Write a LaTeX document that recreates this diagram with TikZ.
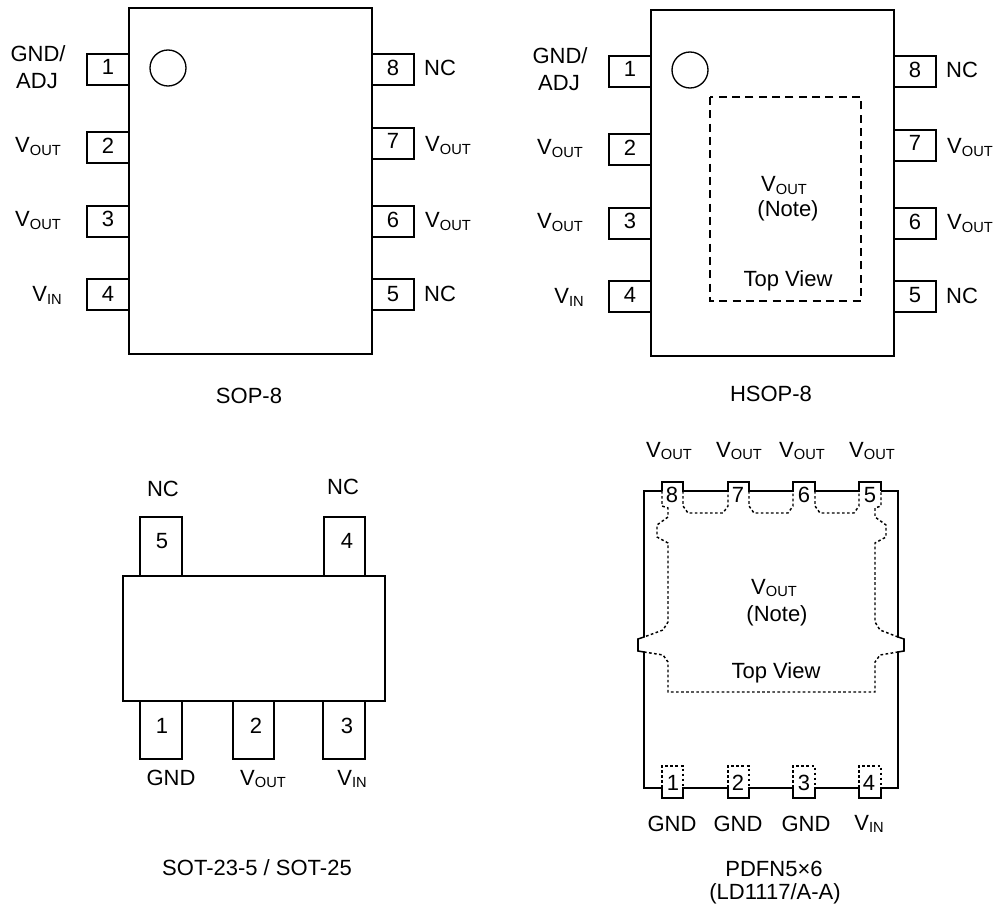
\documentclass[tikz,border=0pt]{standalone}
\usepackage{fontspec}
\setmainfont{Liberation Sans}
\newcommand{\Vs}[1]{V\raisebox{-2.1pt}{\fontsize{11}{11}\selectfont #1}}
\newcommand{\lbl}[3]{\node[txt] (n#1) at (#2) {#3};}
\tikzset{
  txt/.style={anchor=base,inner sep=0pt,outer sep=0pt,align=center,font=\fontsize{16.5}{16.5}\selectfont,text=black},
  ln/.style={draw=black,line width=1.15pt,line join=miter},
  coarse/.style={draw=black,line width=1pt,dash pattern=on 6pt off 4pt},
  fine/.style={draw=black,line width=1.1pt,dash pattern=on 2pt off 1.8pt}
}
\begin{document}
\begin{tikzpicture}[x=0.75pt,y=-0.75pt]
\useasboundingbox (0,0) rectangle (996,909);
% SOP-8 and HSOP-8
\foreach \dx/\dy/\pre in {0/0/a,522/2/b}{
  \begin{scope}[shift={(\dx,\dy)}]
    \draw[ln] (129,8) rectangle (372,354);
    \draw[ln] (129,54) -- (87,54) -- (87,85) -- (129,85);
    \draw[ln] (129,132) -- (87,132) -- (87,163) -- (129,163);
    \draw[ln] (129,206) -- (87,206) -- (87,237) -- (129,237);
    \draw[ln] (129,279) -- (87,279) -- (87,310) -- (129,310);
    \draw[ln] (372,54) -- (414,54) -- (414,85) -- (372,85);
    \draw[ln] (372,128) -- (414,128) -- (414,159) -- (372,159);
    \draw[ln] (372,206) -- (414,206) -- (414,237) -- (372,237);
    \draw[ln] (372,279) -- (414,279) -- (414,310) -- (372,310);
    \draw[ln,line width=1pt] (168,68) circle (18);
    \lbl{\pre p1}{108,75}{1}
    \lbl{\pre p2}{108,154}{2}
    \lbl{\pre p3}{108,227}{3}
    \lbl{\pre p4}{108,301}{4}
    \lbl{\pre p8}{393,76}{8}
    \lbl{\pre p7}{393,149}{7}
    \lbl{\pre p6}{393,228}{6}
    \lbl{\pre p5}{393,301}{5}
    \lbl{\pre gnd}{38,62}{GND/}
    \lbl{\pre adj}{37,89}{ADJ}
    \lbl{\pre vo2}{38,153}{\Vs{OUT}}
    \lbl{\pre vo3}{38,227}{\Vs{OUT}}
    \lbl{\pre vin}{47,302}{\Vs{IN}}
    \lbl{\pre nc8}{440,76}{NC}
    \lbl{\pre vo7}{448,152}{\Vs{OUT}}
    \lbl{\pre vo6}{448,228}{\Vs{OUT}}
    \lbl{\pre nc5}{440,302}{NC}
  \end{scope}
}
\lbl{sop}{249,403}{SOP-8}
\lbl{hsop}{771,401}{HSOP-8}
\draw[coarse] (710,97) rectangle (861,301);
\lbl{hv}{784,192}{\Vs{OUT}}
\lbl{hn}{788,217}{(Note)}
\lbl{ht}{788,287}{Top View}
% SOT-23-5
\draw[ln] (123,576) rectangle (385,701);
\draw[ln] (140,576) -- (140,517) -- (182,517) -- (182,576);
\draw[ln] (324,576) -- (324,517) -- (365,517) -- (365,576);
\draw[ln] (140,701) -- (140,759) -- (182,759) -- (182,701);
\draw[ln] (233,701) -- (233,759) -- (274,759) -- (274,701);
\draw[ln] (323,701) -- (323,759) -- (365,759) -- (365,701);
\lbl{s5}{162,548}{5}
\lbl{s4}{347,548}{4}
\lbl{s1}{162,733}{1}
\lbl{s2}{256,733}{2}
\lbl{s3}{347,733}{3}
\lbl{snc5}{163,496}{NC}
\lbl{snc4}{343,494}{NC}
\lbl{sgnd}{171,785}{GND}
\lbl{svo}{263,785}{\Vs{OUT}}
\lbl{svi}{352,785}{\Vs{IN}}
\lbl{sot}{257,875}{SOT-23-5 / SOT-25}
% PDFN5x6
\draw[ln] (662,491) -- (644,491) -- (644,637) -- (638,639) -- (638,651) -- (644,652) -- (644,788) -- (662,788)
  -- (662,798) -- (683,798) -- (683,788) -- (728,788) -- (728,798) -- (749,798) -- (749,788)
  -- (793,788) -- (793,798) -- (815,798) -- (815,788) -- (859,788) -- (859,798) -- (881,798) -- (881,788)
  -- (898,788) -- (898,652) -- (904,651) -- (904,639) -- (898,637) -- (898,491) -- (881,491);
\draw[ln] (662,491) -- (662,482) -- (683,482) -- (683,491) -- (728,491) -- (728,482) -- (749,482) -- (749,491)
  -- (793,491) -- (793,482) -- (815,482) -- (815,491) -- (859,491) -- (859,482) -- (881,482) -- (881,491);
\draw[fine] (662,491) -- (662,506) -- (668,508) -- (668,517) -- (657,525) -- (657,537) -- (668,543) -- (668,622) -- (663,630) -- (644,637);
\draw[fine] (644,652) -- (663,655) -- (668,662) -- (668,692) -- (875,692) -- (875,662) -- (880,655) -- (898,652);
\draw[fine] (898,637) -- (880,630) -- (875,622) -- (875,543) -- (886,537) -- (886,525) -- (875,517) -- (875,508) -- (881,506) -- (881,491);
\draw[fine] (683,491) -- (683,506) -- (688,513) -- (723,513) -- (728,506) -- (728,491);
\draw[fine] (749,491) -- (749,506) -- (754,513) -- (788,513) -- (793,506) -- (793,491);
\draw[fine] (815,491) -- (815,506) -- (820,513) -- (854,513) -- (859,506) -- (859,491);
\draw[fine] (662,788) -- (662,766) -- (683,766) -- (683,788);
\draw[fine] (728,788) -- (728,766) -- (749,766) -- (749,788);
\draw[fine] (793,788) -- (793,766) -- (815,766) -- (815,788);
\draw[fine] (859,788) -- (859,766) -- (881,766) -- (881,788);
\lbl{pv8}{669,457}{\Vs{OUT}}
\lbl{pv7}{739,457}{\Vs{OUT}}
\lbl{pv6}{802,457}{\Vs{OUT}}
\lbl{pv5}{872,457}{\Vs{OUT}}
\lbl{p8}{672,502}{8}
\lbl{p7}{738,502}{7}
\lbl{p6}{804,502}{6}
\lbl{p5}{870,502}{5}
\lbl{pv}{774,594}{\Vs{OUT}}
\lbl{pn}{777,621}{(Note)}
\lbl{pt}{776,678}{Top View}
\lbl{p1}{673,790}{1}
\lbl{p2}{738,790}{2}
\lbl{p3}{804,790}{3}
\lbl{p4}{869,790}{4}
\lbl{pg1}{672,831}{GND}
\lbl{pg2}{738,831}{GND}
\lbl{pg3}{806,831}{GND}
\lbl{pvi}{869,830}{\Vs{IN}}
\lbl{pdfn}{774,876}{PDFN5×6}
\lbl{pld}{775,899}{(LD1117/A-A)}
\end{tikzpicture}
\end{document}
